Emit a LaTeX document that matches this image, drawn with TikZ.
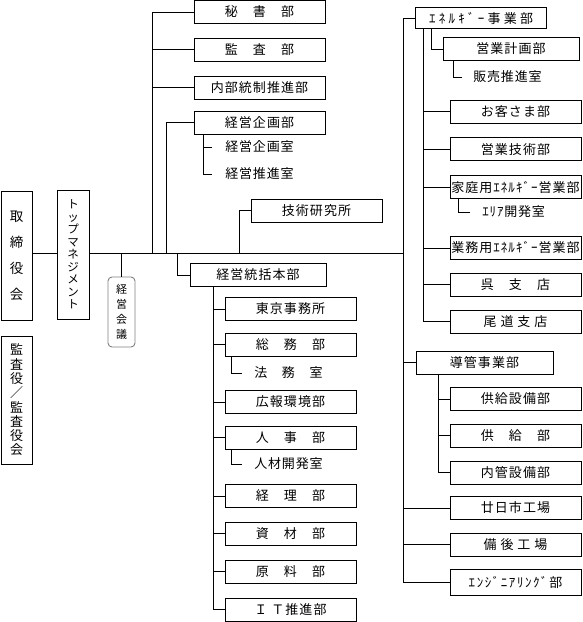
\documentclass[tikz,border=0pt]{standalone}
\usepackage{fontspec}
\setmainfont{Noto Sans CJK JP}
\usetikzlibrary{positioning}

\begin{document}
\begin{tikzpicture}[
    x=1pt, y=-1pt,
    line width=0.9pt,
    dept/.style={
        rectangle, draw, inner sep=0pt,
        text centered, minimum height=23pt, minimum width=131pt,
        font=\fontsize{13}{15}\selectfont\addfontfeature{LetterSpace=8}
    },
    spaced/.style={font=\fontsize{13}{15}\selectfont\addfontfeature{LetterSpace=#1}},
    tate/.style={
        rectangle, draw, inner sep=0pt, align=center,
        minimum width=31pt, minimum height=129pt
    },
    room/.style={anchor=west, inner sep=0pt,
        font=\fontsize{13}{15}\selectfont\addfontfeature{LetterSpace=6}},
]
\useasboundingbox (0,0) rectangle (582,622);

%% Board, top management, meeting
\node[tate, font=\fontsize{13.5}{26}\selectfont] (board) at (16.5,255.5) {取\\締\\役\\会};
\node[tate, minimum width=32pt, font=\fontsize{11.5}{12.5}\selectfont] (topm) at (73,254.5)
    {ト\\ッ\\プ\\マ\\ネ\\ジ\\メ\\ン\\ト};
\node[tate, draw=gray, rounded corners=4pt, minimum width=27pt, minimum height=70pt,
      font=\fontsize{11}{15}\selectfont] (meeting) at (121.5,312) {経\\営\\会\\議};
\node[tate, minimum height=128pt, font=\fontsize{13}{14.3}\selectfont] (auditor) at (16.5,400)
    {監\\査\\役\\／\\監\\査\\役\\会};

%% Trunk
\coordinate (trunk) at (403,253);
\draw (board.east |- trunk) -- (topm.west |- trunk);
\draw (topm.east |- trunk) -- (trunk);
\draw (meeting.north) -- (meeting.north |- trunk);

%% Staff departments
\node[dept] (secretary) at (259.5,12) {秘　書　部};
\node[dept, below=14pt of secretary] (audit) {監　査　部};
\node[dept, below=14pt of audit] (control) {内部統制推進部};
\node[dept, below=11pt of control] (planning) {経営企画部};
\node[room] (planroom) at (225,147) {経営企画室};
\node[room] (promroom) at (225,174) {経営推進室};
\node[dept] (research) at (316.5,210.5) {技術研究所};

\coordinate (staff) at (152,253);
\coordinate (plan) at (166,253);
\coordinate (plansub) at (203,0);
\draw (staff) |- (secretary.west);
\draw (staff |- audit) -- (audit.west);
\draw (staff |- control) -- (control.west);
\draw (plan) |- (planning.west);
\draw (plansub |- planning.south) |- ([xshift=-13pt]promroom.west);
\draw (plansub |- planroom) -- ([xshift=-13pt]planroom.west);
\draw (239,253) |- (research.west);

%% General administration
\node[dept, minimum width=136pt] (admin) at (258,275) {経営統括本部};
\node[dept] (tokyo) at (290.5,309) {東京事務所};
\node[dept, below=12pt of tokyo] (general) {総　務　部};
\node[room] (legal) at (254,373) {法　務　室};
\node[dept] (pr) at (290.5,402) {広報環境部};
\node[dept, below=12pt of pr] (hr) {人　事　部};
\node[room] (talent) at (254,464) {人材開発室};
\node[dept] (account) at (290.5,496) {経　理　部};
\node[dept, below=14pt of account] (material) {資　材　部};
\node[dept, below=14pt of material] (rawmat) {原　料　部};
\node[dept, below=14pt of rawmat] (it) {Ｉ Ｔ推進部};

\draw (177,253) |- (admin.west);
\coordinate (adminsub) at (213,0);
\coordinate (roomsub) at (231,0);
\draw (adminsub |- admin.south) |- (it.west);
\foreach \d in {tokyo, general, pr, hr, account, material, rawmat}
    \draw (adminsub |- \d) -- (\d.west);
\draw (roomsub |- general.south) |- ([xshift=-12pt]legal.west);
\draw (roomsub |- hr.south) |- ([xshift=-12pt]talent.west);

%% Energy business
\node[dept, minimum height=21pt, spaced=25] (energy) at (481,18) {ｴﾈﾙｷﾞｰ事業部};
\node[dept, minimum width=136pt] (salesplan) at (511,49) {営業計画部};
\node[room] (promo) at (473,77) {販売推進室};
\node[dept] (customer) at (515.5,111.5) {お客さま部};
\node[dept, below=14pt of customer] (salestech) {営業技術部};
\node[dept, below=14pt of salestech] (home) {家庭用ｴﾈﾙｷﾞｰ営業部};
\node[room] (area) at (482,212) {ｴﾘｱ開発室};
\node[dept] (business) at (515.5,248) {業務用ｴﾈﾙｷﾞｰ営業部};
\node[dept, below=13pt of business] (kure) {呉　支　店};
\node[dept, below=13pt of kure] (onomichi) {尾 道 支 店};

\draw (trunk) |- (energy.west);
\coordinate (energysub) at (423,0);
\draw (energysub |- energy.south) |- (onomichi.west);
\foreach \d in {customer, salestech, home, business, kure}
    \draw (energysub |- \d) -- (\d.west);
\draw (431,0 |- energy.south) |- (salesplan.west);
\draw (453,0 |- salesplan.south) |- ([xshift=-11pt]promo.west);
\draw (458,0 |- home.south) |- ([xshift=-12pt]area.west);

%% Pipeline business and plants
\node[dept, minimum width=137pt] (pipeline) at (484.5,362.5) {導管事業部};
\node[dept] (supplyeq) at (515.5,399) {供給設備部};
\node[dept, below=13pt of supplyeq] (supply) {供　給　部};
\node[dept, below=13pt of supply] (inner) {内管設備部};
\node[dept] (hatsukaichi) at (515.5,508) {廿日市工場};
\node[dept, below=13pt of hatsukaichi] (bingo) {備 後 工 場};
\node[dept, minimum height=26pt, spaced=12] (engineering) at (515.5,582) {ｴﾝｼﾞﾆｱﾘﾝｸﾞ部};

\draw (trunk) |- (engineering.west);
\foreach \d in {pipeline, hatsukaichi, bingo}
    \draw (trunk |- \d) -- (\d.west);
\coordinate (pipesub) at (438,0);
\draw (pipesub |- pipeline.south) |- (inner.west);
\draw (pipesub |- supplyeq) -- (supplyeq.west);
\draw (pipesub |- supply) -- (supply.west);

\end{tikzpicture}
\end{document}
